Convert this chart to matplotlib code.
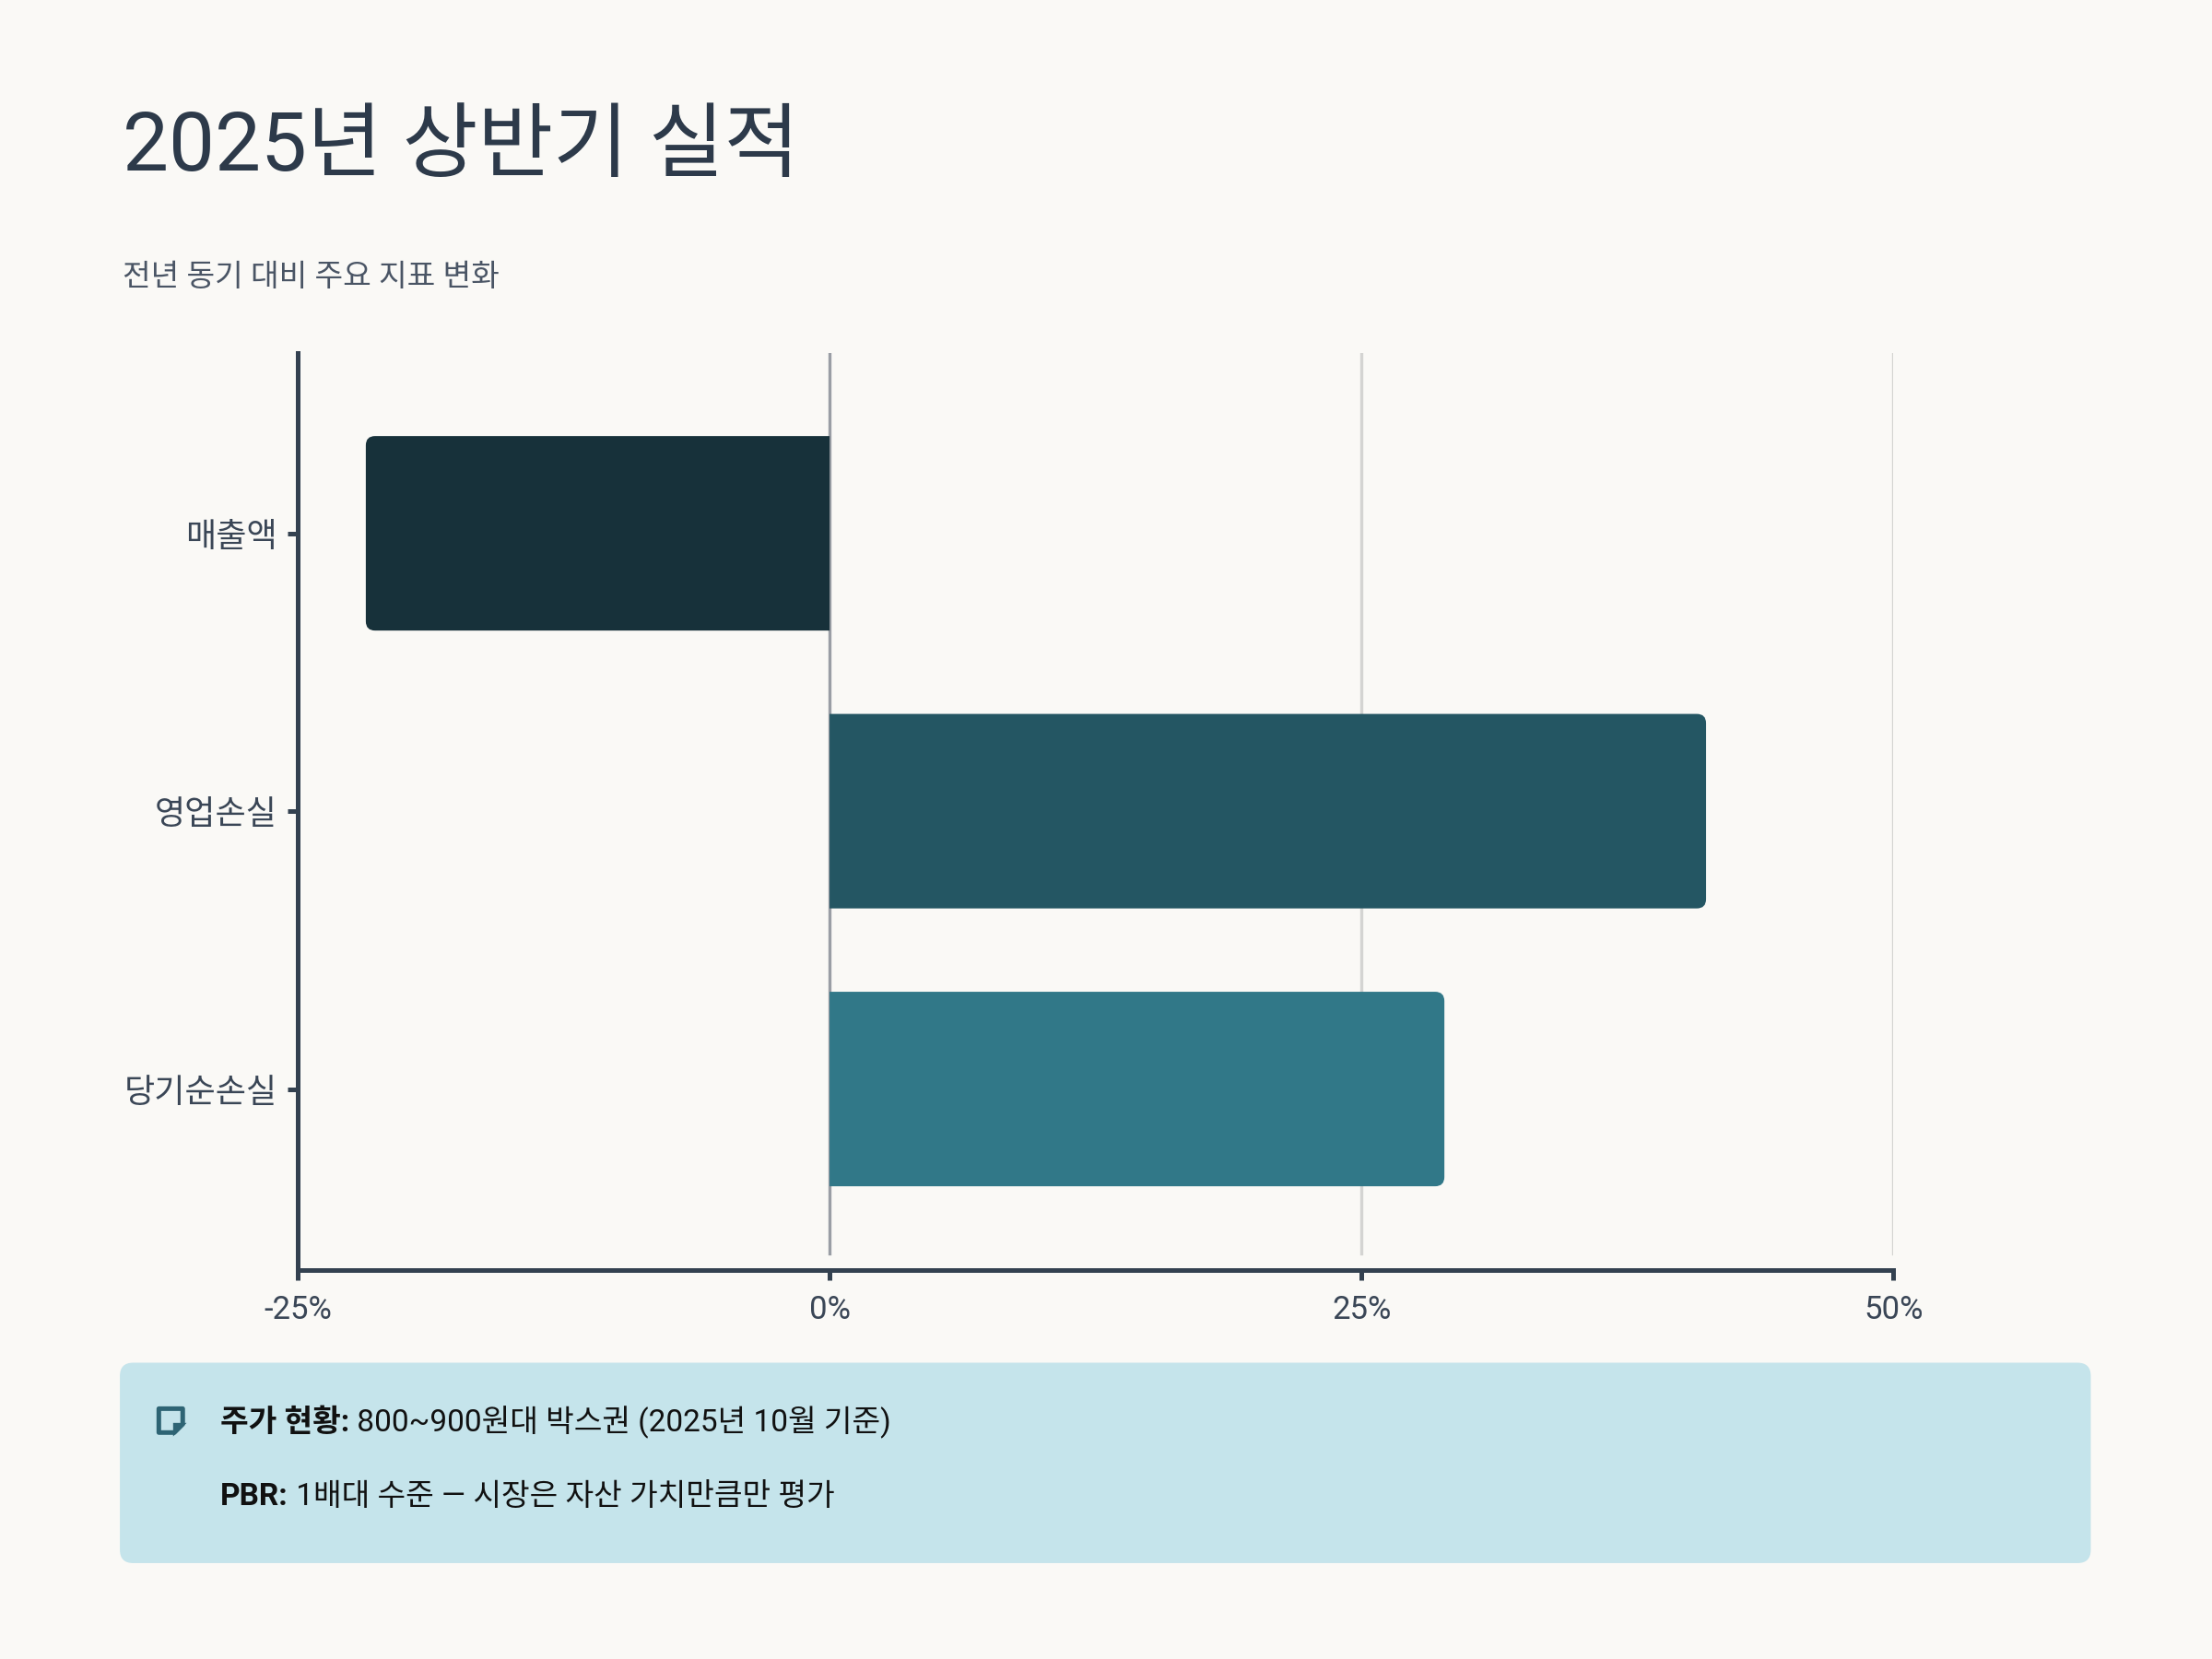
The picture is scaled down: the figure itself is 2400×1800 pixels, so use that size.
import matplotlib
matplotlib.use("Agg")
import matplotlib.pyplot as plt
from matplotlib.patches import FancyBboxPatch, Polygon, PathPatch
from matplotlib.path import Path
from matplotlib.text import Annotation

plt.rcParams['font.family'] = ['Roboto', 'Noto Sans CJK KR', 'DejaVu Sans']

# 데이터
categories = ['매출액', '영업손실', '당기순손실']
changes = [-21.8, 41.2, 28.9]          # 전년 동기 대비 변화율 (%)
bar_colors = ['#17313a', '#245663', '#317888']
xticks = [-25, 0, 25, 50]
xtick_labels = ['-25%', '0%', '25%', '50%']

title = '2025년 상반기 실적'
subtitle = '전년 동기 대비 주요 지표 변화'
notes = [('주가 현황:', ' 800~900원대 박스권 (2025년 10월 기준)'),
         ('PBR:', ' 1배대 수준 — 시장은 자산 가치만큼만 평가')]

BG = '#faf9f6'
AXC = '#334150'

fig = plt.figure(figsize=(12, 9), dpi=200, facecolor=BG)
ax = fig.add_axes([0.1346, 0.2347, 0.7213, 0.5527], facecolor=BG)

ax.set_xlim(-25, 50)
ax.set_ylim(len(categories) - 1 + 0.65, -0.65)

# 격자선
for xv in xticks[1:]:
    ax.axvline(xv, ymin=0.018, ymax=1, color='#9a9ea5' if xv == 0 else '#d4d4d2',
               lw=1.2, zorder=0)


def bar_path(v, yc, h, rx, ry):
    # 바깥쪽 끝만 둥근 막대
    s = 1 if v >= 0 else -1
    y0, y1 = yc - h / 2, yc + h / 2
    verts = [(0, y0), (v - s * rx, y0), (v, y0), (v, y0 + ry),
             (v, y1 - ry), (v, y1), (v - s * rx, y1), (0, y1), (0, y0)]
    codes = [Path.MOVETO, Path.LINETO, Path.CURVE3, Path.CURVE3,
             Path.LINETO, Path.CURVE3, Path.CURVE3, Path.LINETO, Path.CLOSEPOLY]
    return Path(verts, codes)


bh = 0.7
fig.canvas.draw()
inv = ax.transData.inverted()
p0 = inv.transform((0, 0))
p1 = inv.transform((10, 10))
x_per_px = abs(p1[0] - p0[0]) / 10
y_per_px = abs(p1[1] - p0[1]) / 10
r_px = 10
for i, (v, c) in enumerate(zip(changes, bar_colors)):
    ax.add_patch(PathPatch(bar_path(v, i, bh, r_px * x_per_px, r_px * y_per_px),
                           fc=c, ec='none', zorder=2))

# 축
for s in ['top', 'right']:
    ax.spines[s].set_visible(False)
for s in ['left', 'bottom']:
    ax.spines[s].set_color(AXC)
    ax.spines[s].set_linewidth(1.8)
ax.set_yticks(range(len(categories)))
ax.set_yticklabels(categories, fontsize=13)
ax.set_xticks(xticks)
ax.set_xticklabels(xtick_labels, fontsize=12.5)
ax.tick_params(axis='both', colors=AXC, width=1.8, length=4,
               labelcolor='#3a4656')
ax.tick_params(axis='x', pad=6)
ax.tick_params(axis='y', pad=4)

# 제목
fig.text(0.0555, 0.897, title, fontsize=32, color='#2d3a4a', va='baseline')
fig.text(0.0555, 0.828, subtitle, fontsize=12, color='#4a5565', va='baseline')

# 하단 메모 상자
box = FancyBboxPatch((0.0542, 0.0578), 0.891, 0.1208, transform=fig.transFigure,
                     boxstyle='round,pad=0,rounding_size=0.006',
                     mutation_aspect=1.333, fc='#c5e4eb', ec='none')
fig.add_artist(box)

# 메모 아이콘
ic = '#2e6474'
ix, iy, s = 0.0718, 0.1365, 0.0108
sy = s * 12 / 9
icon = Polygon([(ix, iy + sy), (ix + s, iy + sy), (ix + s, iy + sy * 0.35),
                (ix + s * 0.65, iy), (ix, iy)], closed=True, transform=fig.transFigure,
               fc='none', ec=ic, lw=1.8, joinstyle='round')
fig.add_artist(icon)
fold = Polygon([(ix + s, iy + sy * 0.35), (ix + s * 0.65, iy + sy * 0.35),
                (ix + s * 0.65, iy)], closed=True, transform=fig.transFigure,
               fc=ic, ec=ic, lw=1.2)
fig.add_artist(fold)

for (bold, rest), yb in zip(notes, [0.137, 0.093]):
    t1 = fig.text(0.0995, yb, bold, fontsize=12, fontweight='bold',
                  color='#111111', va='baseline')
    a = Annotation(rest, xy=(1, yb), xycoords=(t1, 'figure fraction'),
                   fontsize=12, color='#111111', va='baseline', ha='left')
    fig.add_artist(a)

fig.savefig('out.png', dpi=200, facecolor=BG)
